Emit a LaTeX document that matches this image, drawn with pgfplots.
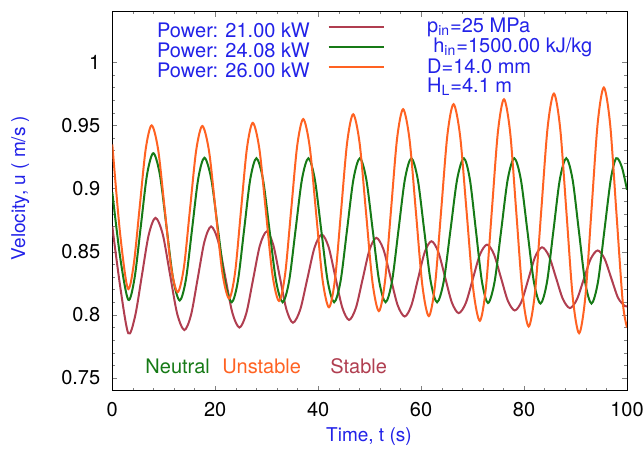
\documentclass[border=0pt]{standalone}
\usepackage{pgfplots}
\pgfplotsset{compat=1.18}
\usepackage{fontspec}
\setmainfont{TeX Gyre Heros}
\definecolor{redc}{RGB}{176,62,80}
\definecolor{greenc}{RGB}{22,122,22}
\definecolor{orangec}{RGB}{255,98,34}
\definecolor{bluec}{RGB}{34,34,232}
\begin{document}
\begin{tikzpicture}
\begin{axis}[
  scale only axis, width=257.35pt, height=189.5pt,
  xmin=0, xmax=100, ymin=0.74, ymax=1.04,
  xtick={0,20,40,60,80,100},
  ytick={0.75,0.8,0.85,0.9,0.95,1},
  minor x tick num=4, minor y tick num=4,
  tick align=inside, tick pos=both,
  major tick length=2.5pt, minor tick length=1.4pt,
  /pgf/number format/assume math mode=true,
  tick label style={font=\fontsize{10}{12}\selectfont},
  xticklabel style={yshift=-2.5pt},
  yticklabel style={xshift=-2.5pt},
  xlabel={Time, t (s)}, ylabel={Velocity, u ( m/s )},
  label style={font=\fontsize{9.5}{11}\selectfont, text=bluec},
  xlabel style={at={(axis description cs:0.4987,-0.122)}, anchor=center},
  ylabel style={at={(axis description cs:-0.179,0.535)}, anchor=center},
  legend plot pos=right, legend cell align=right,
  legend style={at={(axis description cs:0.530,0.9702)}, anchor=north east,
    draw=none, fill=none, inner sep=0pt, column sep=9pt, row sep=0pt,
    font=\fontsize{10}{12}\selectfont, text=bluec,
    nodes={inner sep=0pt, text height=7.2pt, text depth=2.8pt}},
  legend image code/.code={\draw[#1] (0pt,3.4pt) -- (27.5pt,3.4pt);},
  every axis plot/.append style={line width=1pt, smooth, tension=0.5},
]
\addplot[redc] coordinates {
(0,0.870) (1.55,0.822) (3.1,0.7855)
(4.425,0.7989) (5.75,0.8312) (7.075,0.8634) (8.4,0.8768)
(9.8,0.8638) (11.2,0.8324) (12.6,0.8010) (14.0,0.788)
(15.3,0.800) (16.6,0.829) (17.9,0.858) (19.2,0.870)
(20.575,0.8583) (21.95,0.830) (23.325,0.8017) (24.7,0.790)
(26.025,0.8011) (27.35,0.828) (28.675,0.8549) (30.0,0.866)
(31.275,0.8554) (32.55,0.8299) (33.825,0.8044) (35.1,0.7938)
(36.5,0.8040) (37.9,0.8287) (39.3,0.8534) (40.7,0.8636)
(42.025,0.8537) (43.35,0.8298) (44.675,0.8059) (46.0,0.796)
(47.325,0.8055) (48.65,0.8285) (49.975,0.8515) (51.3,0.861)
(52.675,0.8519) (54.05,0.8299) (55.425,0.8079) (56.8,0.7987)
(58.1,0.8074) (59.4,0.8285) (60.7,0.8496) (62.0,0.8583)
(63.325,0.8500) (64.65,0.8299) (65.975,0.8098) (67.3,0.8014)
(68.675,0.8093) (70.05,0.8285) (71.425,0.8477) (72.8,0.8556)
(74.15,0.8480) (75.5,0.8296) (76.85,0.8112) (78.2,0.8035)
(79.525,0.8108) (80.85,0.8285) (82.175,0.8462) (83.5,0.8535)
(84.85,0.8465) (86.2,0.8295) (87.55,0.8125) (88.9,0.8054)
(90.25,0.8121) (91.6,0.8282) (92.95,0.8443) (94.3,0.851)
(95.625,0.8446) (96.95,0.829) (98.275,0.8134) (99.6,0.807) (100,0.8072)
};
\addlegendentry{Power: 21.00 kW}
\addplot[greenc] coordinates {
(0,0.897) (1.55,0.845) (3.1,0.812)
(4.32,0.829) (5.535,0.870) (6.75,0.911) (7.97,0.928)
(9.25,0.9109) (10.535,0.8697) (11.82,0.8285) (13.1,0.8114)
(14.3,0.8279) (15.5,0.8679) (16.7,0.9079) (17.9,0.9244)
(19.225,0.9076) (20.55,0.8672) (21.875,0.8268) (23.2,0.810)
(24.4,0.8267) (25.6,0.867) (26.8,0.9073) (28.0,0.924)
(29.275,0.9073) (30.55,0.867) (31.825,0.8267) (33.1,0.810)
(34.35,0.8267) (35.6,0.867) (36.85,0.9073) (38.1,0.924)
(39.35,0.9073) (40.6,0.867) (41.85,0.8267) (43.1,0.810)
(44.35,0.8267) (45.6,0.867) (46.85,0.9073) (48.1,0.924)
(49.35,0.9073) (50.6,0.867) (51.85,0.8267) (53.1,0.810)
(54.35,0.8267) (55.6,0.867) (56.85,0.9073) (58.1,0.924)
(59.35,0.9073) (60.6,0.867) (61.85,0.8267) (63.1,0.810)
(64.4,0.8267) (65.7,0.867) (67.0,0.9073) (68.3,0.924)
(69.475,0.9072) (70.65,0.8667) (71.825,0.8262) (73.0,0.8094)
(74.275,0.8262) (75.55,0.8667) (76.825,0.9072) (78.1,0.924)
(79.375,0.9072) (80.65,0.8665) (81.925,0.8258) (83.2,0.809)
(84.45,0.8258) (85.7,0.8665) (86.95,0.9072) (88.2,0.924)
(89.425,0.9072) (90.65,0.8665) (91.875,0.8258) (93.1,0.809)
(94.35,0.8258) (95.6,0.8665) (96.85,0.9072) (97.9,0.924) (99.0,0.917) (100,0.899)
};
\addlegendentry{Power: 24.08 kW}
\addplot[orangec] coordinates {
(0,0.935) (1.5,0.865) (3.0,0.821)
(4.1625,0.8399) (5.325,0.8855) (6.4875,0.9311) (7.65,0.950)
(8.9125,0.9307) (10.175,0.884) (11.4375,0.8373) (12.7,0.818)
(13.9,0.8373) (15.1,0.8838) (16.3,0.9303) (17.5,0.9495)
(18.8,0.9295) (20.1,0.8813) (21.4,0.8330) (22.7,0.813)
(23.85,0.8334) (25.0,0.8825) (26.15,0.9316) (27.3,0.952)
(28.575,0.9314) (29.85,0.8815) (31.125,0.8316) (32.4,0.811)
(33.575,0.8321) (34.75,0.883) (35.925,0.9339) (37.1,0.955)
(38.35,0.9332) (39.6,0.8805) (40.85,0.8278) (42.1,0.806)
(43.275,0.8284) (44.45,0.8824) (45.625,0.9364) (46.8,0.9588)
(48.05,0.9360) (49.3,0.8809) (50.55,0.8258) (51.8,0.803)
(52.975,0.8264) (54.15,0.8829) (55.325,0.9394) (56.5,0.9628)
(57.75,0.9388) (59.0,0.8809) (60.25,0.8230) (61.5,0.799)
(62.7,0.8236) (63.9,0.8829) (65.1,0.9422) (66.3,0.9668)
(67.575,0.9417) (68.85,0.8811) (70.125,0.8204) (71.4,0.7953)
(72.575,0.8210) (73.75,0.883) (74.925,0.9450) (76.1,0.9707)
(77.3,0.9444) (78.5,0.8808) (79.7,0.8172) (80.9,0.7908)
(82.125,0.8178) (83.35,0.883) (84.575,0.9482) (85.8,0.9752)
(87.025,0.9474) (88.25,0.8804) (89.475,0.8133) (90.7,0.7855)
(91.9,0.8140) (93.1,0.8828) (94.3,0.9515) (95.5,0.980)
(96.725,0.9509) (97.95,0.8805) (99.175,0.8101) (100,0.790)
};
\addlegendentry{Power: 26.00 kW}
\begin{scope}[every node/.style={inner sep=0pt, anchor=base west, font=\fontsize{10}{12}\selectfont}]
\node[text=bluec] at (axis cs:61.1,1.0239) {p\textsubscript{in}=25 MPa};
\node[text=bluec] at (axis cs:62.3,1.0080) {h\textsubscript{in}=1500.00 kJ/kg};
\node[text=bluec] at (axis cs:61.1,0.9913) {D=14.0 mm};
\node[text=bluec] at (axis cs:61.1,0.9762) {H\textsubscript{L}=4.1 m};
\node[text=greenc] at (axis cs:6.37,0.754) {Neutral};
\node[text=orangec] at (axis cs:21.3,0.754) {Unstable};
\node[text=redc] at (axis cs:42.3,0.754) {Stable};
\end{scope}
\end{axis}
\pgfresetboundingbox
\path (-56.15pt,-31.15pt) rectangle (265.85pt,195.35pt);
\end{tikzpicture}
\end{document}
